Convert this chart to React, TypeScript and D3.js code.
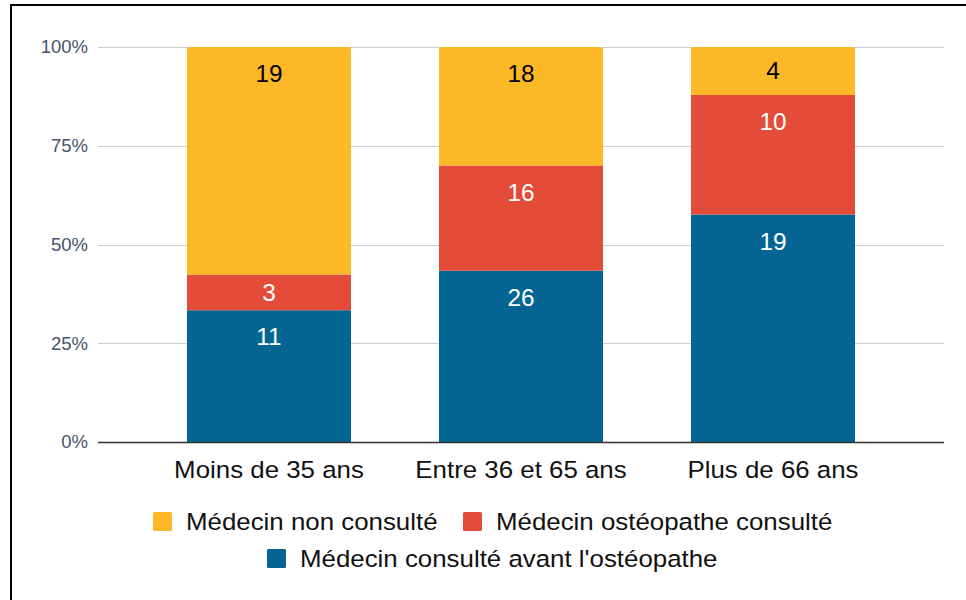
import React from "react";
import * as d3 from "d3";

const categories = ["Moins de 35 ans", "Entre 36 et 65 ans", "Plus de 66 ans"];
const seriesNames = ["Médecin consulté avant l'ostéopathe", "Médecin ostéopathe consulté", "Médecin non consulté"];
const avantValues = [11, 26, 19];
const osteoValues = [3, 16, 10];
const nonValues = [19, 18, 4];
const yTicks = [0, 0.25, 0.5, 0.75, 1];
const colors = ["#046492", "#e24c38", "#fdb827"];
const labelColors = ["#ffffff", "#ffffff", "#000000"];

const W = 966, H = 600;
const FONT = "'Liberation Sans', Arial, sans-serif";

function SText(props: { x: number; y: number; anchor?: string; size: number; fill: string; sx?: number; children: any }) {
  const { x, y, anchor = "start", size, fill, sx = 1.11, children } = props;
  return (
    <text transform={`translate(${x},${y}) scale(${sx},1)`} textAnchor={anchor as any} fontSize={size} fill={fill}>
      {children}
    </text>
  );
}

export default function App() {
  const x = d3.scaleBand<string>().domain(categories).range([187, 855]).paddingInner(88 / 252).paddingOuter(0);
  const y = d3.scaleLinear().domain([0, 1]).range([442, 47]);
  const fmt = d3.format(".0%");

  const table = categories.map((c, i) => ({
    cat: c,
    s0: avantValues[i],
    s1: osteoValues[i],
    s2: nonValues[i],
  }));
  const stack = d3.stack<any>().keys(["s0", "s1", "s2"]).offset(d3.stackOffsetExpand);
  const layers = stack(table);

  const bw = x.bandwidth();

  return (
    <div style={{ position: "fixed", left: 0, top: 0 }}>
      <svg width={W} height={H} style={{ display: "block", background: "#fff" }} fontFamily={FONT}>
        <rect x={0} y={0} width={W} height={H} fill="#fff" />
        {/* frame */}
        <line x1={10} y1={5} x2={W} y2={5} stroke="#000" strokeWidth={2} />
        <line x1={11} y1={4} x2={11} y2={H} stroke="#000" strokeWidth={2} />
        {/* gridlines */}
        {yTicks.map((t) => (
          <g key={t}>
            {t !== 0 && (
              <line x1={98} x2={944} y1={Math.round(y(t)) + 0.5} y2={Math.round(y(t)) + 0.5}
                stroke="#cccccc" strokeWidth={1} />
            )}
            <text x={88} y={y(t)} dy="0.35em" textAnchor="end" fontSize={18.5} fill="#44546a">{fmt(t)}</text>
          </g>
        ))}
        {/* bars */}
        {layers.map((layer, li) => (
          <g key={li}>
            {layer.map((d, i) => {
              const x0 = x(categories[i])!;
              const top = y(d[1]);
              const bottom = y(d[0]);
              const isTop = li === layers.length - 1;
              const r = 3;
              const path = isTop
                ? `M${x0},${bottom} L${x0},${top + r} Q${x0},${top} ${x0 + r},${top} L${x0 + bw - r},${top} Q${x0 + bw},${top} ${x0 + bw},${top + r} L${x0 + bw},${bottom} Z`
                : `M${x0},${bottom} L${x0},${top} L${x0 + bw},${top} L${x0 + bw},${bottom} Z`;
              const ly = Math.min(top + 35, (top + bottom) / 2 + 8.3);
              const val = (d.data as any)[`s${li}`];
              return (
                <g key={i}>
                  <path d={path} fill={colors[li]} />
                  <SText x={x0 + bw / 2} y={ly} anchor="middle" size={23} sx={1.06} fill={labelColors[li]}>{val}</SText>
                </g>
              );
            })}
          </g>
        ))}
        {/* baseline */}
        <line x1={98} x2={944} y1={442.5} y2={442.5} stroke="#333" strokeWidth={1.5} />
        {/* category labels */}
        {categories.map((c) => (
          <SText key={c} x={x(c)! + bw / 2} y={478.3} anchor="middle" size={23.3} fill="#111">{c}</SText>
        ))}
        {/* legend */}
        {[
          { idx: 2, sx: 153, sy: 512 },
          { idx: 1, sx: 463, sy: 512 },
          { idx: 0, sx: 267, sy: 549 },
        ].map(({ idx, sx, sy }) => (
          <g key={idx}>
            <rect x={sx} y={sy} width={19} height={19} rx={1.5} fill={colors[idx]} />
            <SText x={sx + 33} y={sy + 18} size={23.3} fill="#111">{seriesNames[idx]}</SText>
          </g>
        ))}
      </svg>
    </div>
  );
}
